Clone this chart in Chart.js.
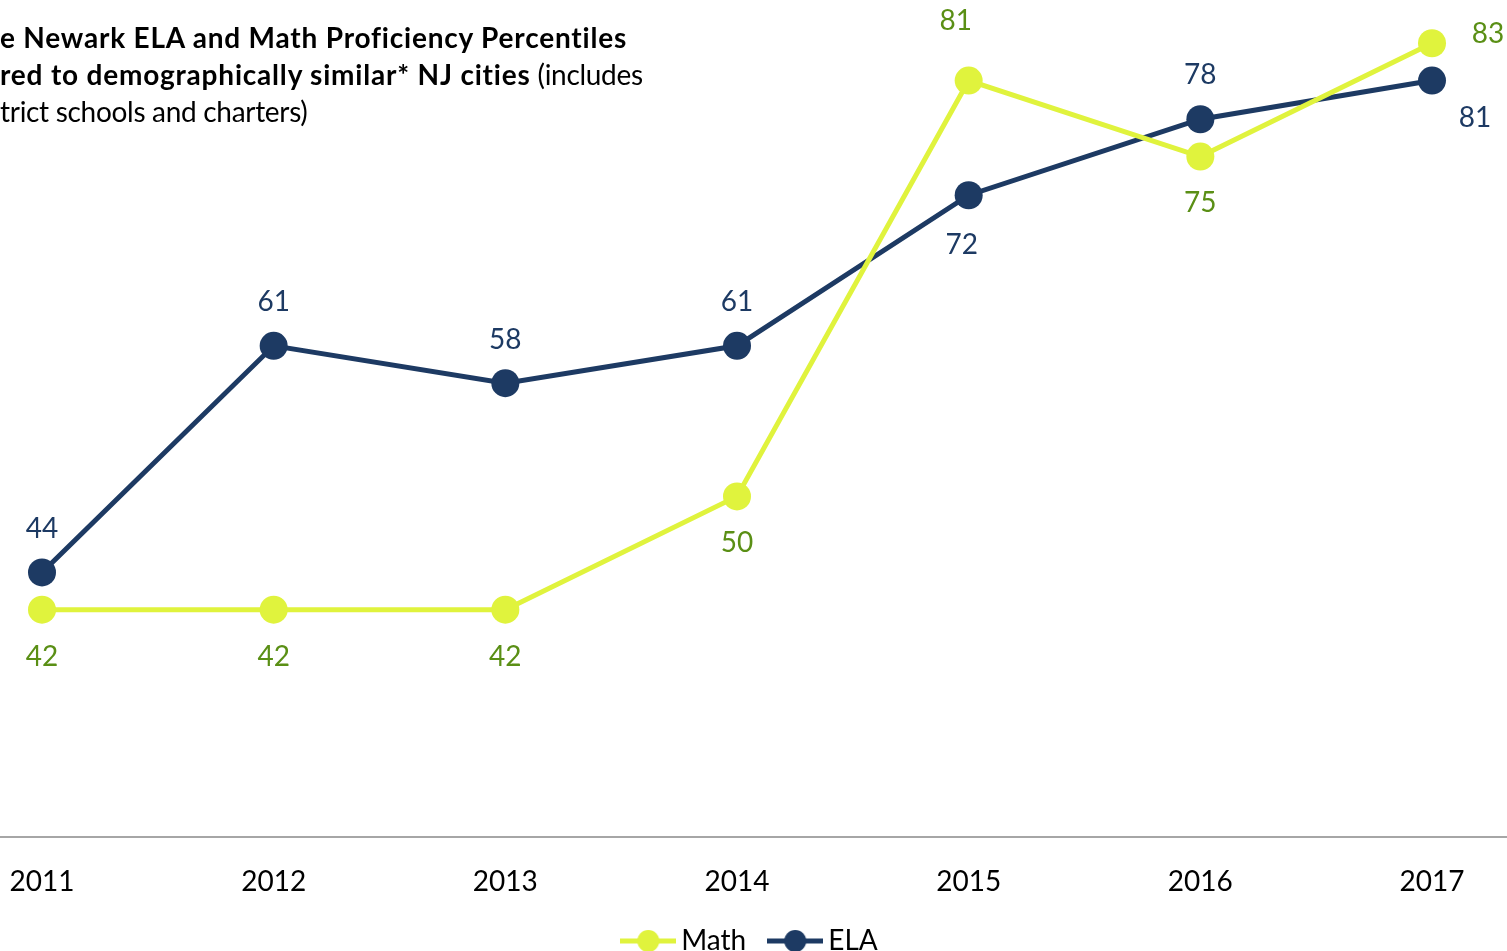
<!DOCTYPE html>
<html>
<head>
<meta charset="utf-8">
<script src="https://cdn.jsdelivr.net/npm/chart.js@4/dist/chart.umd.min.js"></script>
<style>
  html, body { margin: 0; padding: 0; background: #fff; overflow: hidden; }
  #wrap { position: relative; width: 1507px; height: 965px; }
  #title {
    position: absolute; left: 0; top: 19px; white-space: pre;
    font-family: Lato, "Open Sans", sans-serif; font-size: 28px; line-height: 37px;
    letter-spacing: -0.3px; color: #000;
  }
  #title b { font-weight: 700; letter-spacing: 0.8px; }
</style>
</head>
<body>
<div id="wrap">
  <canvas id="myChart" width="1507" height="965"></canvas>
  <div id="title"><b>e Newark ELA and Math Proficiency Percentiles</b>
<b>red to demographically similar* NJ cities</b> (includes
trict schools and charters)</div>
</div>
<script>
// ---------------- data ----------------
var years = [2011, 2012, 2013, 2014, 2015, 2016, 2017];
// plotted heights
var mathValues = [42, 42, 42, 50.2, 80.3, 74.8, 83];
var elaValues = [44.7, 61.1, 58.4, 61.1, 72, 77.5, 80.3];
// printed labels
var mathLabels = ['42', '42', '42', '50', '81', '75', '83'];
var elaLabels = ['44', '61', '58', '61', '72', '78', '81'];

// label placement (dx, dy from the point)
var mathOffsets = [[0, 47], [0, 47], [0, 47], [0, 47], [-13, -60], [0, 46], [56, -9]];
var elaOffsets = [[0, -43], [0, -44], [0, -43], [0, -44], [-7, 50], [0, -44], [43, 37]];

var mathColor = '#e0f33d';
var mathText = '#5a8f15';
var elaColor = '#1d3a63';
var FONT = 'Lato, "Open Sans", sans-serif';

// legend marker: short line with a dot
function legendMarker(color) {
  var c = document.createElement('canvas');
  c.width = 56; c.height = 26;
  var g = c.getContext('2d');
  g.strokeStyle = color; g.lineWidth = 5;
  g.beginPath(); g.moveTo(0, 13); g.lineTo(56, 13); g.stroke();
  g.fillStyle = color;
  g.beginPath(); g.arc(28, 13, 11, 0, Math.PI * 2); g.fill();
  return c;
}

// draw the value labels next to each point
var valueLabels = {
  id: 'valueLabels',
  afterDatasetsDraw: function (chart) {
    var ctx = chart.ctx;
    ctx.save();
    ctx.font = '28px ' + FONT;
    ctx.textAlign = 'center';
    ctx.textBaseline = 'middle';
    chart.data.datasets.forEach(function (ds, di) {
      var meta = chart.getDatasetMeta(di);
      meta.data.forEach(function (pt, i) {
        var off = ds.labelOffsets[i];
        ctx.fillStyle = ds.labelColor;
        ctx.fillText(ds.valueText[i], pt.x + off[0], pt.y + off[1]);
      });
    });
    ctx.restore();
  }
};

var ctx = document.getElementById('myChart').getContext('2d');
var myChart = new Chart(ctx, {
  type: 'line',
  data: {
    datasets: [{
      label: 'Math',
      data: years.map(function (y, i) { return { x: y, y: mathValues[i] }; }),
      borderColor: mathColor,
      backgroundColor: mathColor,
      borderWidth: 5,
      pointRadius: 14,
      pointHoverRadius: 14,
      pointBorderWidth: 0,
      pointStyle: 'circle',
      valueText: mathLabels,
      labelOffsets: mathOffsets,
      labelColor: mathText,
      legendImg: legendMarker(mathColor)
    }, {
      label: 'ELA',
      data: years.map(function (y, i) { return { x: y, y: elaValues[i] }; }),
      borderColor: elaColor,
      backgroundColor: elaColor,
      borderWidth: 5,
      pointRadius: 14,
      pointHoverRadius: 14,
      pointBorderWidth: 0,
      pointStyle: 'circle',
      valueText: elaLabels,
      labelOffsets: elaOffsets,
      labelColor: elaColor,
      legendImg: legendMarker(elaColor)
    }]
  },
  options: {
    responsive: false,
    animation: false,
    clip: false,
    layout: { padding: 0, autoPadding: false },
    scales: {
      x: {
        type: 'linear',
        min: 2010.8187,
        max: 2017.3237,
        grid: { display: false, drawTicks: false },
        border: { display: true, color: '#a6a6a6', width: 2 },
        afterBuildTicks: function (scale) {
          scale.ticks = years.map(function (v) { return { value: v }; });
        },
        afterFit: function (scale) {
          scale.height = 60;
          scale.paddingLeft = 0;
          scale.paddingRight = 0;
        },
        ticks: {
          autoSkip: false,
          maxRotation: 0,
          padding: 28,
          color: '#000',
          font: { family: FONT, size: 28 },
          callback: function (v) { return String(v); }
        }
      },
      y: {
        display: false,
        min: 25.55,
        max: 86.13
      }
    },
    plugins: {
      tooltip: { enabled: false },
      legend: {
        position: 'bottom',
        labels: {
          usePointStyle: true,
          pointStyleWidth: 38,
          color: '#000',
          font: { family: FONT, size: 28 },
          padding: 30,
          generateLabels: function (chart) {
            return chart.data.datasets.map(function (ds, i) {
              return {
                text: ds.label,
                pointStyle: ds.legendImg,
                fillStyle: ds.borderColor,
                strokeStyle: ds.borderColor,
                fontColor: '#000',
                lineWidth: 0,
                datasetIndex: i
              };
            });
          }
        }
      }
    }
  },
  plugins: [valueLabels]
});
</script>
</body>
</html>
